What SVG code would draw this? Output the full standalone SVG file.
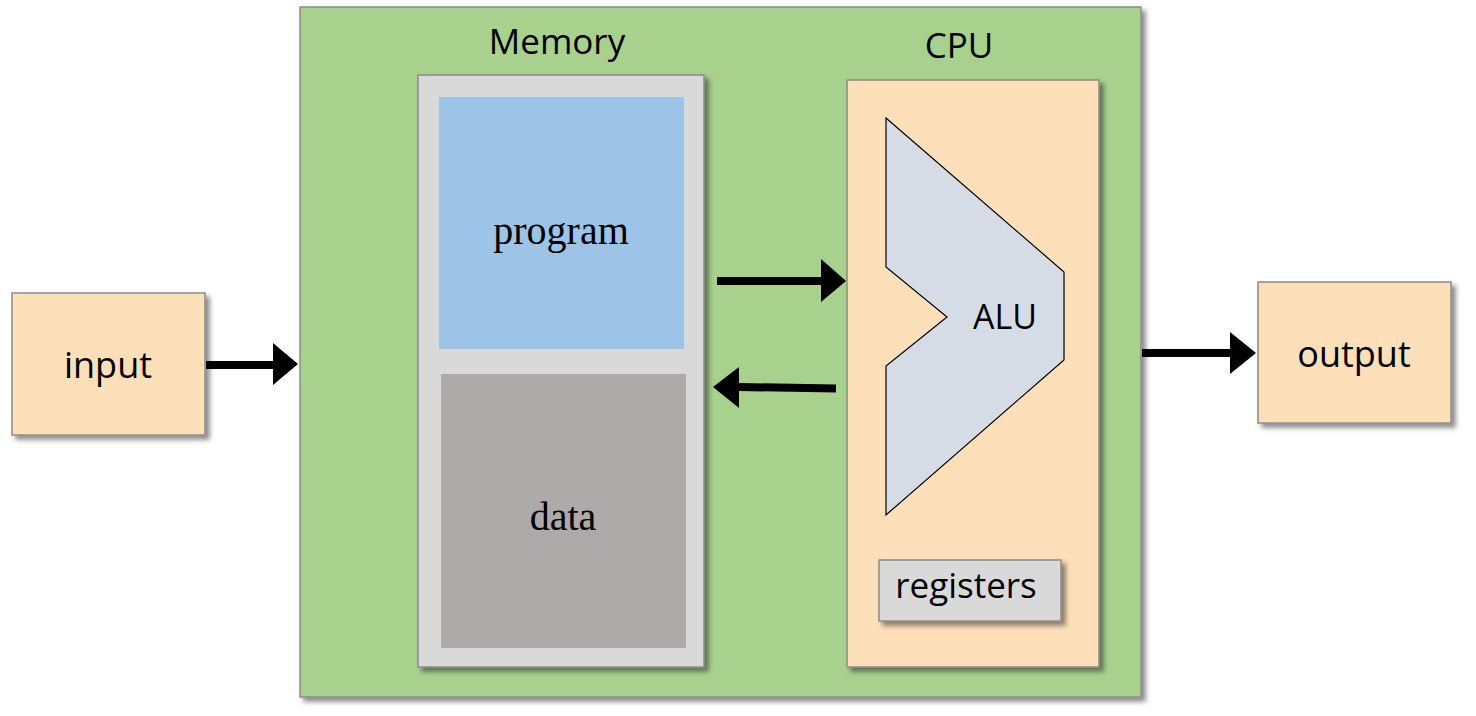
<svg xmlns="http://www.w3.org/2000/svg" width="1476" height="716" viewBox="0 0 1476 716">
<defs>
<filter id="sh" x="-10%" y="-10%" width="130%" height="130%">
<feDropShadow dx="4" dy="4" stdDeviation="2.5" flood-color="#000" flood-opacity="0.45"/>
</filter>
<style>
.box{stroke:#8c8c8c;stroke-width:1.5}
.peach{fill:#fddfba}
.gray{fill:#d9d9d9}
.sans{font-family:"Open Sans","Liberation Sans",sans-serif;fill:#000;text-anchor:middle}
.serif{font-family:"Liberation Serif","Times New Roman",serif;fill:#000;text-anchor:middle}
.arrow{fill:#000}
</style>
</defs>
<rect width="1476" height="716" fill="#fff"/>
<g id="computer">
<rect class="box" x="300" y="7" width="841" height="690" fill="#a9d18e" filter="url(#sh)"/>
</g>
<g id="memory">
<rect class="box gray" x="418" y="75" width="286" height="592" filter="url(#sh)"/>
<text class="sans" x="557" y="54" font-size="35">Memory</text>
</g>
<g id="program">
<rect x="439" y="97" width="245" height="252" fill="#9dc3e6"/>
<text class="serif" x="561" y="244" font-size="40">program</text>
</g>
<g id="data">
<rect x="441" y="374" width="245" height="274" fill="#aeaaaa"/>
<text class="serif" x="563" y="530" font-size="40">data</text>
</g>
<g id="cpu">
<rect class="box peach" x="847" y="80" width="252" height="587" filter="url(#sh)"/>
<text class="sans" x="959" y="58" font-size="35">CPU</text>
</g>
<g id="alu">
<polygon points="886,118 1064,272 1064,360 886,515 886,366 947,317 886,267" fill="#d6dce5" stroke="#000" stroke-width="1.2"/>
<text class="sans" x="1005" y="329" font-size="34">ALU</text>
</g>
<g id="registers">
<rect class="box gray" x="879" y="560" width="182" height="61" filter="url(#sh)"/>
<text class="sans" x="966" y="598" font-size="35">registers</text>
</g>
<g id="input">
<rect class="box peach" x="12" y="293" width="193" height="142" filter="url(#sh)"/>
<text class="sans" x="108" y="378" font-size="36">input</text>
</g>
<g id="output">
<rect class="box peach" x="1258" y="282" width="193" height="141" filter="url(#sh)"/>
<text class="sans" x="1354" y="367" font-size="36">output</text>
</g>
<g id="connectors">
<polygon class="arrow" points="206,361 273,361 273,343 298,364 273,385 273,369 206,369"/>
<polygon class="arrow" points="717,277 821,277 821,259 846,281 821,302 821,285 717,285"/>
<polygon class="arrow" points="836,384.5 739,383 739,367 713,387 739,408 739,391 836,392.5"/>
<polygon class="arrow" points="1142,349 1230,349 1230,332 1256,353 1230,374 1230,357 1142,357"/>
</g>
</svg>
